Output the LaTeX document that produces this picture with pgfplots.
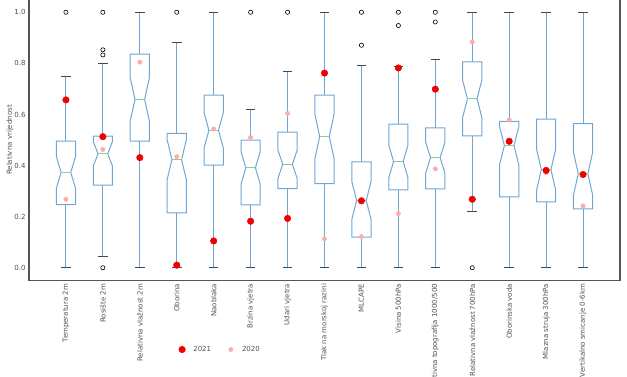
\documentclass[border=0pt]{standalone}
\usepackage{pgfplots}
\pgfplotsset{compat=1.18}
\usepackage{fontspec}
\setmainfont{DejaVu Sans}
\definecolor{boxblue}{RGB}{112,166,212}
\definecolor{medgreen}{RGB}{140,206,140}
\definecolor{capgray}{RGB}{70,70,70}
\definecolor{txtgray}{RGB}{80,80,80}
\definecolor{axgray}{RGB}{85,85,85}
\definecolor{pinkc}{RGB}{255,172,172}
\definecolor{redc}{RGB}{240,0,0}

% #1 position, #2 whisker low, #3 Q1, #4 notch low, #5 median, #6 notch high, #7 Q3, #8 whisker high
\newcommand{\nbox}[8]{%
  \pgfmathsetmacro\xa{#1-0.26}%
  \pgfmathsetmacro\xb{#1+0.26}%
  \pgfmathsetmacro\xc{#1-0.13}%
  \pgfmathsetmacro\xd{#1+0.13}%
  \addplot[boxblue, line width=1pt, forget plot, line join=miter] coordinates {(\xa,#3) (\xb,#3) (\xb,#4) (\xd,#5) (\xb,#6) (\xb,#7) (\xa,#7) (\xa,#6) (\xc,#5) (\xa,#4) (\xa,#3) (\xb,#3)};
  \addplot[boxblue, line width=1pt, forget plot] coordinates {(#1,#7) (#1,#8)};
  \addplot[boxblue, line width=1pt, forget plot] coordinates {(#1,#3) (#1,#2)};
  \addplot[capgray, line width=1pt, forget plot] coordinates {(\xc,#8) (\xd,#8)};
  \addplot[capgray, line width=1pt, forget plot] coordinates {(\xc,#2) (\xd,#2)};
  \addplot[medgreen, line width=1pt, forget plot] coordinates {(\xc,#5) (\xd,#5)};
}

\begin{document}
\begin{tikzpicture}
\begin{axis}[
  scale only axis, width=591pt, height=281pt,
  at={(0,0)}, anchor=south west,
  xmin=0, xmax=16, ymin=-0.05, ymax=1.05,
  axis line style={draw=axgray, line width=1.1pt},
  xtick={1,...,15},
  xticklabels={Temperatura 2m, Rosište 2m, Relativna vlažnost 2m, Oborina, Naoblaka, Brzina vjetra, Udari vjetra, Tlak na morskoj razini, MLCAPE, Visina 500hPa, Relativna topografija 1000/500, Relativna vlažnost 700hPa, Oborinska voda, Mlazna struja 300hPa, Vertikalno smicanje 0-6km},
  ytick={0,0.2,0.4,0.6,0.8,1.0},
  /pgf/number format/.cd, fixed, fixed zerofill, precision=1, assume math mode=true, /pgfplots/.cd,
  major tick length=0pt,
  tick label style={font=\fontsize{7}{8}\selectfont, text=txtgray},
  xticklabel style={rotate=90, anchor=east},
  yticklabel style={xshift=0pt},
  ylabel={Relativna vrijednost},
  every axis y label/.style={at={(axis description cs:-0.0321,0.5)}, rotate=90, anchor=center, font=\fontsize{7}{8}\selectfont, text=txtgray},
  legend style={at={(axis description cs:0.323,-0.2456)}, anchor=center, draw=none, fill=none,
    legend columns=2, font=\fontsize{7}{8}\selectfont, text=txtgray,
    /tikz/every even column/.append style={column sep=13.5pt}},
  legend image code/.code={\path (0pt,0pt) (13pt,0pt); \draw[#1] plot coordinates {(4pt,0pt)};},
]
\nbox{1}{0}{0.247}{0.311}{0.373}{0.435}{0.496}{0.750}
\nbox{2}{0.043}{0.323}{0.398}{0.446}{0.494}{0.515}{0.800}
\nbox{3}{0}{0.496}{0.574}{0.659}{0.744}{0.836}{1.0}
\nbox{4}{0}{0.215}{0.345}{0.423}{0.501}{0.526}{0.881}
\nbox{5}{0}{0.402}{0.469}{0.538}{0.607}{0.676}{1.0}
\nbox{6}{0}{0.246}{0.327}{0.391}{0.455}{0.500}{0.619}
\nbox{7}{0}{0.310}{0.350}{0.405}{0.460}{0.531}{0.768}
\nbox{8}{0}{0.329}{0.427}{0.514}{0.601}{0.676}{1.0}
\nbox{9}{0}{0.120}{0.189}{0.263}{0.337}{0.414}{0.791}
\nbox{10}{0}{0.305}{0.352}{0.416}{0.480}{0.5625}{0.786}
\nbox{11}{0}{0.309}{0.371}{0.431}{0.491}{0.547}{0.814}
\nbox{12}{0.220}{0.516}{0.588}{0.661}{0.734}{0.806}{1.0}
\nbox{13}{0}{0.277}{0.404}{0.478}{0.552}{0.573}{1.0}
\nbox{14}{0}{0.258}{0.303}{0.384}{0.465}{0.582}{1.0}
\nbox{15}{0}{0.230}{0.284}{0.368}{0.452}{0.564}{1.0}
% outliers
\addplot[black, only marks, forget plot, mark=o, mark size=2.1pt, mark options={line width=0.6pt}] coordinates {
(1,1.0) (2,1.0) (2,0.853) (2,0.833) (2,0.0) (4,1.0) (6,1.0) (7,1.0) (9,1.0) (9,0.871)
(10,1.0) (10,0.948) (11,1.0) (11,0.962) (12,0.0)};
% 2020
\addplot[pinkc, only marks, forget plot, mark=*, mark size=2.2pt] coordinates {
(1,0.268) (2,0.463) (3,0.805) (4,0.435) (5,0.543) (6,0.510) (7,0.604) (8,0.113) (9,0.122) (10,0.212) (11,0.387) (12,0.884) (13,0.579) (14,0.372) (15,0.242)};
% 2021
\addplot[redc, only marks, forget plot, mark=*, mark size=3.3pt] coordinates {
(1,0.657) (2,0.513) (3,0.431) (4,0.010) (5,0.105) (6,0.182) (7,0.193) (8,0.762) (9,0.262) (10,0.782) (11,0.699) (12,0.268) (13,0.495) (14,0.381) (15,0.365)};
\addlegendimage{redc, only marks, mark=*, mark size=3.3pt}
\addlegendentry{2021}
\addlegendimage{pinkc, only marks, mark=*, mark size=2.2pt}
\addlegendentry{2020}
\coordinate (sw) at (rel axis cs:0,0);
\end{axis}
\pgfresetboundingbox
\path[use as bounding box] (sw) ++(-29pt,-95.5pt) rectangle ++(627pt,376pt);
\end{tikzpicture}
\end{document}
